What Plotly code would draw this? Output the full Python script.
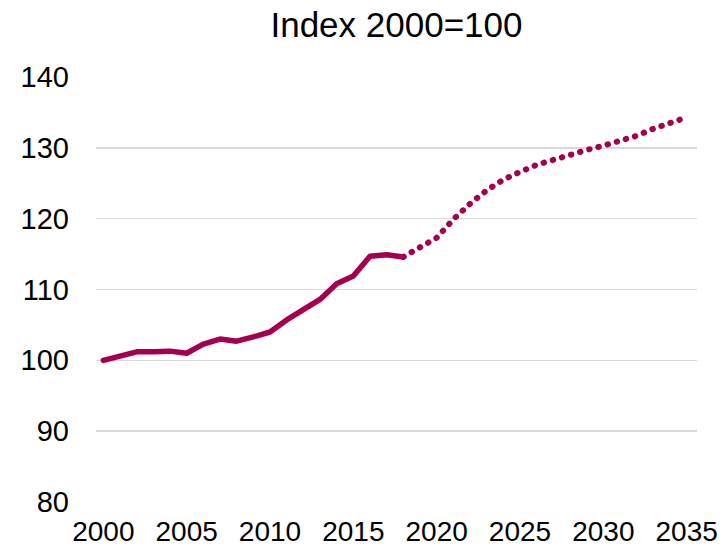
import plotly.graph_objects as go

hist_years = list(range(2000, 2019))
hist_values = [100.0, 100.6, 101.2, 101.2, 101.3, 101.0, 102.3, 103.0, 102.7, 103.3,
               104.0, 105.7, 107.1, 108.6, 110.8, 111.9, 114.7, 114.9, 114.6]

proj_years = list(range(2018, 2036))
proj_values = [114.6, 115.9, 117.3, 119.9, 122.1, 124.0, 125.5, 126.6, 127.6, 128.3,
               129.1, 129.7, 130.3, 130.9, 131.7, 132.7, 133.6, 134.3]

x_ticks = [2000, 2005, 2010, 2015, 2020, 2025, 2030, 2035]
y_ticks = [80, 90, 100, 110, 120, 130, 140]
title_text = "Index 2000=100"

color = "#A5004F"
font_family = "Liberation Sans, Arial, sans-serif"

fig = go.Figure()
fig.add_trace(go.Scatter(x=hist_years, y=hist_values, mode="lines",
                         line=dict(color=color, width=5.5), showlegend=False, hoverinfo="skip"))
fig.add_trace(go.Scatter(x=proj_years, y=proj_values, mode="lines",
                         line=dict(color=color, width=6, dash="0.5px,9px"), showlegend=False, hoverinfo="skip"))

fig.update_layout(
    width=724, height=549,
    margin=dict(l=96, r=27, t=77, b=47, autoexpand=False),
    paper_bgcolor="white", plot_bgcolor="white",
    font=dict(family=font_family, color="#000000", size=29),
    title=dict(text=title_text, x=0.5, xanchor="center", xref="paper",
               y=0.955, yref="container", yanchor="middle",
               font=dict(size=35, family=font_family, color="#000000"),
               automargin=False),
    xaxis=dict(range=[1999.56, 2035.62], tickvals=x_ticks, ticktext=[str(v) for v in x_ticks],
               showgrid=False, zeroline=False, showline=False, ticks="", automargin=False,
               ticklabelstandoff=10, tickfont=dict(size=28)),
    yaxis=dict(range=[80, 140], tickvals=y_ticks, showgrid=True, gridcolor="#D9D9D9",
               gridwidth=1.5, zeroline=False, showline=False, ticks="", automargin=False,
               ticklabelstandoff=26, tickfont=dict(size=29)),
)

post = """
document.body.style.margin = '0';
document.body.style.overflow = 'hidden';
var s = document.createElement('style');
s.innerHTML = '.js-line { stroke-linecap: round !important; stroke-linejoin: round !important; }';
document.head.appendChild(s);
"""
fig.write_html("out.html", post_script=post, config={"displayModeBar": False, "staticPlot": True})
